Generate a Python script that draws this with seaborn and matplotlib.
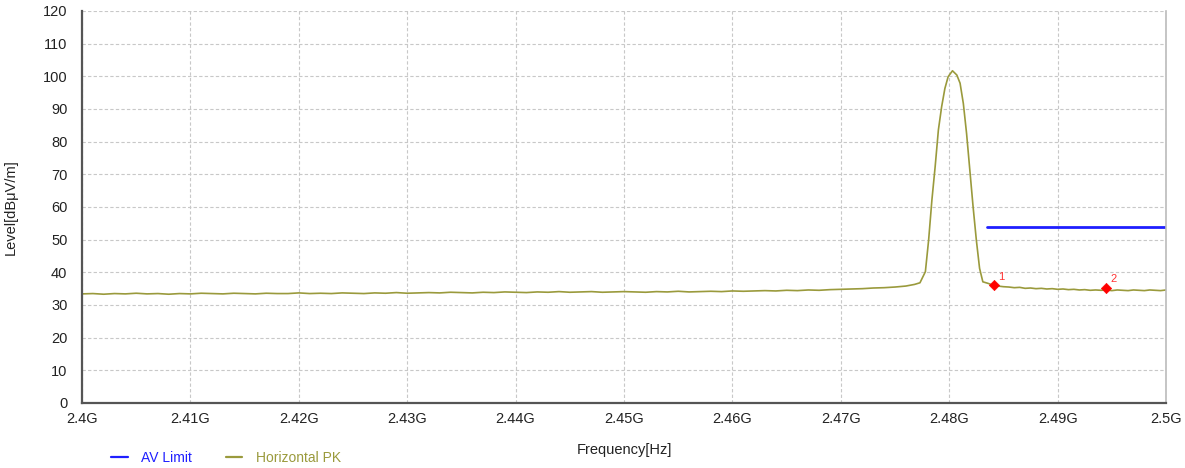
import numpy as np
import pandas as pd
import seaborn as sns
import matplotlib.pyplot as plt
from matplotlib.lines import Line2D
from matplotlib.ticker import FuncFormatter

# --- data (frequency in GHz, level in dBuV/m) ---
flat_freq_start = 2.400
flat_step = 0.001
flat_level = [
    33.4, 33.5, 33.3, 33.5, 33.4, 33.6, 33.4, 33.5, 33.3, 33.5,
    33.4, 33.6, 33.5, 33.4, 33.6, 33.5, 33.4, 33.6, 33.5, 33.5,
    33.7, 33.5, 33.6, 33.5, 33.7, 33.6, 33.5, 33.7, 33.6, 33.8,
    33.6, 33.7, 33.8, 33.7, 33.9, 33.8, 33.7, 33.9, 33.8, 34.0,
    33.9, 33.8, 34.0, 33.9, 34.1, 33.9, 34.0, 34.1, 33.9, 34.0,
    34.1, 34.0, 33.9, 34.1, 34.0, 34.2, 34.0, 34.1, 34.2, 34.1,
    34.3, 34.2, 34.3, 34.4, 34.3, 34.5, 34.4, 34.6, 34.5, 34.7,
    34.8, 34.9, 35.0, 35.2,
]

peak_freq = [2.4740, 2.4750, 2.4760, 2.4768, 2.4773, 2.4778, 2.4781,
             2.4784, 2.4787, 2.4790, 2.4793, 2.4796, 2.4799, 2.4803,
             2.4807, 2.4810, 2.4813, 2.4816, 2.4819, 2.4822, 2.4825,
             2.4828, 2.4831, 2.4836]
peak_level = [35.3, 35.5, 35.8, 36.3, 36.8, 40.2, 49.9,
              62.1, 72.3, 83.6, 90.7, 96.3, 99.9, 101.7,
              100.4, 97.9, 91.7, 82.5, 71.3, 60.1, 49.9,
              41.2, 37.1, 36.6]

tail_freq_start = 2.4840
tail_step = 0.0005
tail_level = [
    36.1, 35.8, 35.6, 35.5, 35.3, 35.4, 35.1, 35.2, 35.0, 35.1,
    34.9, 35.0, 34.8, 34.9, 34.7, 34.8, 34.6, 34.7, 34.5, 34.6,
    34.5, 34.6, 34.4, 34.6, 34.5, 34.4, 34.6, 34.5, 34.4, 34.6,
    34.5, 34.4, 34.6,
]

limit_freq = [2.4835, 2.5000]
limit_level = [54.0, 54.0]

marker_freq = [2.4841, 2.4945]
marker_level = [36.1, 35.3]
marker_labels = ["1", "2"]

# --- assemble the trace ---
flat_freq = [round(flat_freq_start + i * flat_step, 4) for i in range(len(flat_level))]
tail_freq = [round(tail_freq_start + i * tail_step, 4) for i in range(len(tail_level))]
trace = pd.DataFrame({
    "freq": flat_freq + peak_freq + tail_freq,
    "level": flat_level + peak_level + tail_level,
})
limit = pd.DataFrame({"freq": limit_freq, "level": limit_level})
markers = pd.DataFrame({"freq": marker_freq, "level": marker_level})

olive = "#9a9a3c"
blue = "#1f1fff"

sns.set_style("white")
plt.rcParams["font.family"] = ["Liberation Sans", "DejaVu Sans"]

fig = plt.figure(figsize=(11.85, 4.68), dpi=100)
ax = fig.add_axes([0.0692, 0.1389, 0.9148, 0.8376])

sns.lineplot(data=trace, x="freq", y="level", ax=ax, color=olive,
             linewidth=1.2, estimator=None, sort=False)
sns.lineplot(data=limit, x="freq", y="level", ax=ax, color=blue,
             linewidth=2, estimator=None)
sns.scatterplot(data=markers, x="freq", y="level", ax=ax, color="red",
                marker="D", s=28, edgecolor="red", zorder=5)
for f, l, t in zip(marker_freq, marker_level, marker_labels):
    ax.annotate(t, (f, l), xytext=(3, 4), textcoords="offset points",
                color="#ff3333", fontsize=8)

ax.set_xlim(2.4, 2.5)
ax.set_ylim(0, 120)
ax.set_xticks(np.linspace(2.4, 2.5, 11))
ax.set_yticks(range(0, 121, 10))
ax.xaxis.set_major_formatter(FuncFormatter(lambda v, p: f"{v:.2f}".rstrip("0").rstrip(".") + "G"))
ax.grid(True, color="#c8c8c8", linestyle=(0, (3, 2)), linewidth=0.8)
ax.tick_params(axis="both", labelsize=10.5, colors="#222222", length=6,
               width=1, direction="inout")
ax.tick_params(axis="y", direction="out", length=7)

for s in ["left", "bottom"]:
    ax.spines[s].set_color("#555555")
    ax.spines[s].set_linewidth(1.6)
ax.spines["right"].set_color("#bbbbbb")
ax.spines["right"].set_linewidth(1.2)
ax.spines["top"].set_visible(False)

ax.set_xlabel("Frequency[Hz]", fontsize=10.5, color="#222222", labelpad=12)
ax.set_ylabel("Level[dBμV/m]", fontsize=10.5, color="#222222", labelpad=18)

handles = [Line2D([], [], color=blue, linewidth=1.6),
           Line2D([], [], color=olive, linewidth=1.6)]
fig.legend(handles, ["AV Limit", "Horizontal PK"], loc="lower left",
           bbox_to_anchor=(0.083, -0.02), ncol=2, frameon=False,
           fontsize=10, labelcolor=[blue, olive], handlelength=1.2,
           handletextpad=1.0, columnspacing=2.4)

fig.savefig("out.png", dpi=100)
